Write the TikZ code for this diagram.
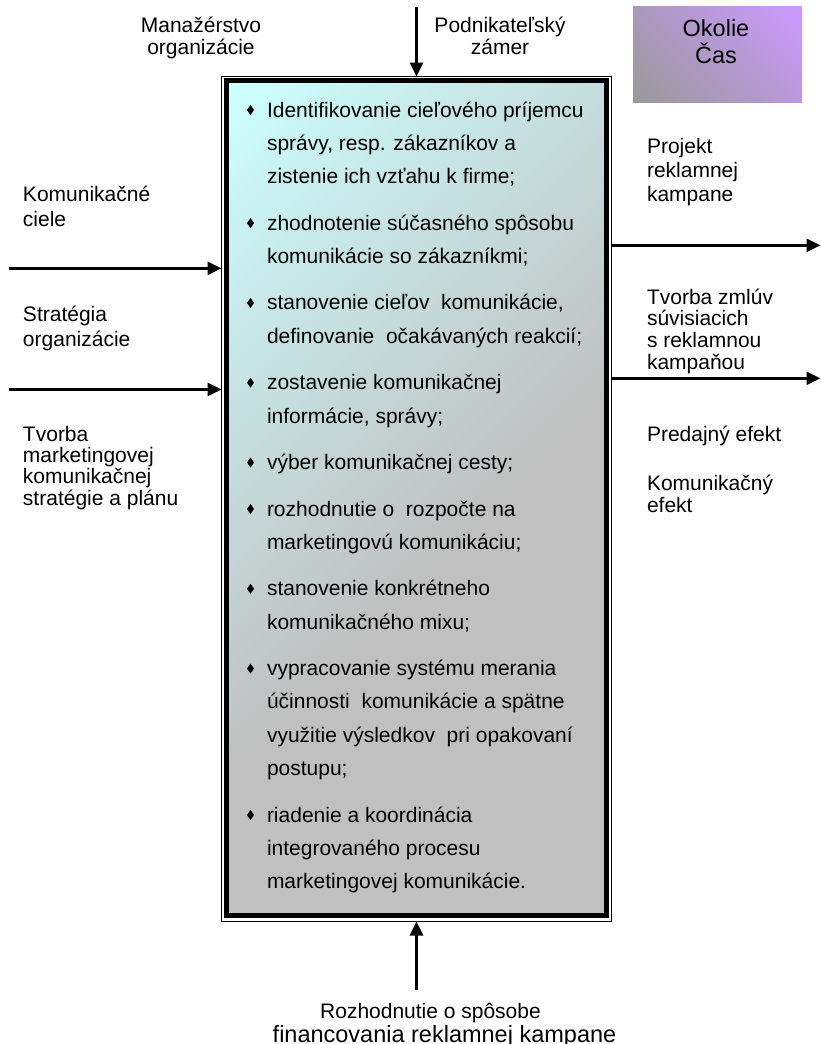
\documentclass[tikz,border=0pt]{standalone}
\usepackage{fontspec}
\setmainfont{Liberation Sans}
\usetikzlibrary{arrows.meta,shapes.geometric}

\definecolor{boxcyan}{HTML}{CCFFFF}
\definecolor{boxgray}{HTML}{C0C0C0}
\definecolor{envpurple}{HTML}{CC99FF}
\definecolor{envgray}{HTML}{999999}

% diagonal fills: cyan fading into gray for the process box, gray into violet for the environment box
\pgfdeclareverticalshading{processfill}{100bp}{color(0bp)=(boxgray); color(45bp)=(boxgray); color(85bp)=(boxcyan); color(100bp)=(boxcyan)}
\pgfdeclareverticalshading{envfill}{100bp}{color(0bp)=(envgray); color(15bp)=(envgray); color(85bp)=(envpurple); color(100bp)=(envpurple)}

% stacked lines whose reference point is the baseline of the first line
\newcommand\leftlines[2]{\vtop{\baselineskip=#1\relax\lineskiplimit=-\maxdimen\halign{##\hfil\cr#2\crcr}}}
\newcommand\centerlines[2]{\vtop{\baselineskip=#1\relax\lineskiplimit=-\maxdimen\halign{\hfil##\hfil\cr#2\crcr}}}

\begin{document}
\begin{tikzpicture}[x=1pt,y=-1pt,
  labeltxt/.style={inner sep=0pt, outer sep=0pt, font=\fontsize{21}{24}\selectfont},
  lefttext/.style={labeltxt, anchor=base west},
  midtext/.style={labeltxt, anchor=base},
  bullet/.style={diamond, fill=black, inner sep=0pt, outer sep=0pt, minimum width=7pt, minimum height=10pt},
  flow/.style={line width=2.7pt, -{Triangle[length=14pt,width=13pt]}},
]
% page
\fill[white] (0,0) rectangle (821,1044);
\useasboundingbox (0,0) rectangle (821,1044);

% process box: thin outer line, thick inner line, shaded body
\node[draw, line width=1.2pt, minimum width=390pt, minimum height=845pt, inner sep=0pt, outer sep=0pt] (frame) at (416.5,499) {};
\node[draw, line width=5pt, shade, shading=processfill, shading angle=45, minimum width=380pt, minimum height=835pt, inner sep=0pt, outer sep=0pt] (core) at (416.5,498) {};

% environment box
\node[shade, shading=envfill, shading angle=-45, minimum width=169pt, minimum height=96pt, inner sep=0pt, outer sep=0pt] (envbox) at (717.5,54) {};
\node[midtext, font=\fontsize{23.5}{27}\selectfont] (envtext) at (716,36) {\centerlines{27pt}{Okolie\cr Čas}};

% controls above
\node[midtext] (mgmt) at (201,32) {\centerlines{22pt}{Manažérstvo\cr organizácie}};
\node[midtext] (intent) at (500,32) {\centerlines{22pt}{Podnikateľský\cr zámer}};
\coordinate (topin) at (416.5,7);
\draw[flow] (topin) -- (frame.north);

% inputs on the left
\node[lefttext] (goaltxt) at (23,201) {\leftlines{25pt}{Komunikačné\cr ciele}};
\node[lefttext] (strattxt) at (23,321) {\leftlines{25pt}{Stratégia\cr organizácie}};
\node[lefttext] (plantxt) at (23,441) {\leftlines{21.4pt}{Tvorba\cr marketingovej\cr komunikačnej\cr stratégie a plánu}};
\coordinate (goalin) at (9,268.3);
\coordinate (stratin) at (9,389.5);
\draw[flow] (goalin) -- (goalin -| frame.west);
\draw[flow] (stratin) -- (stratin -| frame.west);

% outputs on the right
\node[lefttext] (projtxt) at (647,153.5) {\leftlines{24.2pt}{Projekt\cr reklamnej\cr kampane}};
\node[lefttext] (contrtxt) at (647,304) {\leftlines{21.7pt}{Tvorba zmlúv\cr súvisiacich\cr s reklamnou\cr kampaňou}};
\node[lefttext] (saletxt) at (647,441) {Predajný efekt};
\node[lefttext] (commtxt) at (647,490) {\leftlines{22pt}{Komunikačný\cr efekt}};
\coordinate (projout) at (820.5,245.3);
\coordinate (controut) at (820.5,378.3);
\draw[flow] (projout -| frame.east) -- (projout);
\draw[flow] (controut -| frame.east) -- (controut);

% mechanism below
\coordinate (botin) at (416.5,990);
\draw[flow] (botin) -- (frame.south);
\node[midtext] (fintxt) at (444.5,1018) {\centerlines{24pt}{Rozhodnutie o spôsobe\hskip28pt\cr {\fontsize{23.5}{24}\selectfont financovania reklamnej kampane}}};

% activities inside the box
\node[lefttext] (i1) at (267,117.0) {\leftlines{33.3pt}{Identifikovanie cieľového príjemcu\cr správy, resp. zákazníkov a\cr zistenie ich vzťahu k firme;}};
\node[lefttext] (i2) at (267,230.1) {\leftlines{33.3pt}{zhodnotenie súčasného spôsobu\cr komunikácie so zákazníkmi;}};
\node[lefttext] (i3) at (267,309.9) {\leftlines{33.3pt}{stanovenie cieľov~ komunikácie,\cr definovanie~ očakávaných reakcií;}};
\node[lefttext] (i4) at (267,389.7) {\leftlines{33.3pt}{zostavenie komunikačnej\cr informácie, správy;}};
\node[lefttext] (i5) at (267,469.5) {výber komunikačnej cesty;};
\node[lefttext] (i6) at (267,516.0) {\leftlines{33.3pt}{rozhodnutie o~ rozpočte na\cr marketingovú komunikáciu;}};
\node[lefttext] (i7) at (267,595.8) {\leftlines{33.3pt}{stanovenie konkrétneho\cr komunikačného mixu;}};
\node[lefttext] (i8) at (267,675.6) {\leftlines{33.3pt}{vypracovanie systému merania\cr účinnosti~ komunikácie a spätne\cr využitie výsledkov~ pri opakovaní\cr postupu;}};
\node[lefttext] (i9) at (267,822.0) {\leftlines{33.3pt}{riadenie a koordinácia\cr integrovaného procesu\cr marketingovej komunikácie.}};

\node[bullet] (b1) at (250.5,110.0) {};
\node[bullet] (b2) at (250.5,223.1) {};
\node[bullet] (b3) at (250.5,302.9) {};
\node[bullet] (b4) at (250.5,382.7) {};
\node[bullet] (b5) at (250.5,462.5) {};
\node[bullet] (b6) at (250.5,509.0) {};
\node[bullet] (b7) at (250.5,588.8) {};
\node[bullet] (b8) at (250.5,668.6) {};
\node[bullet] (b9) at (250.5,815.0) {};
\end{tikzpicture}
\end{document}
